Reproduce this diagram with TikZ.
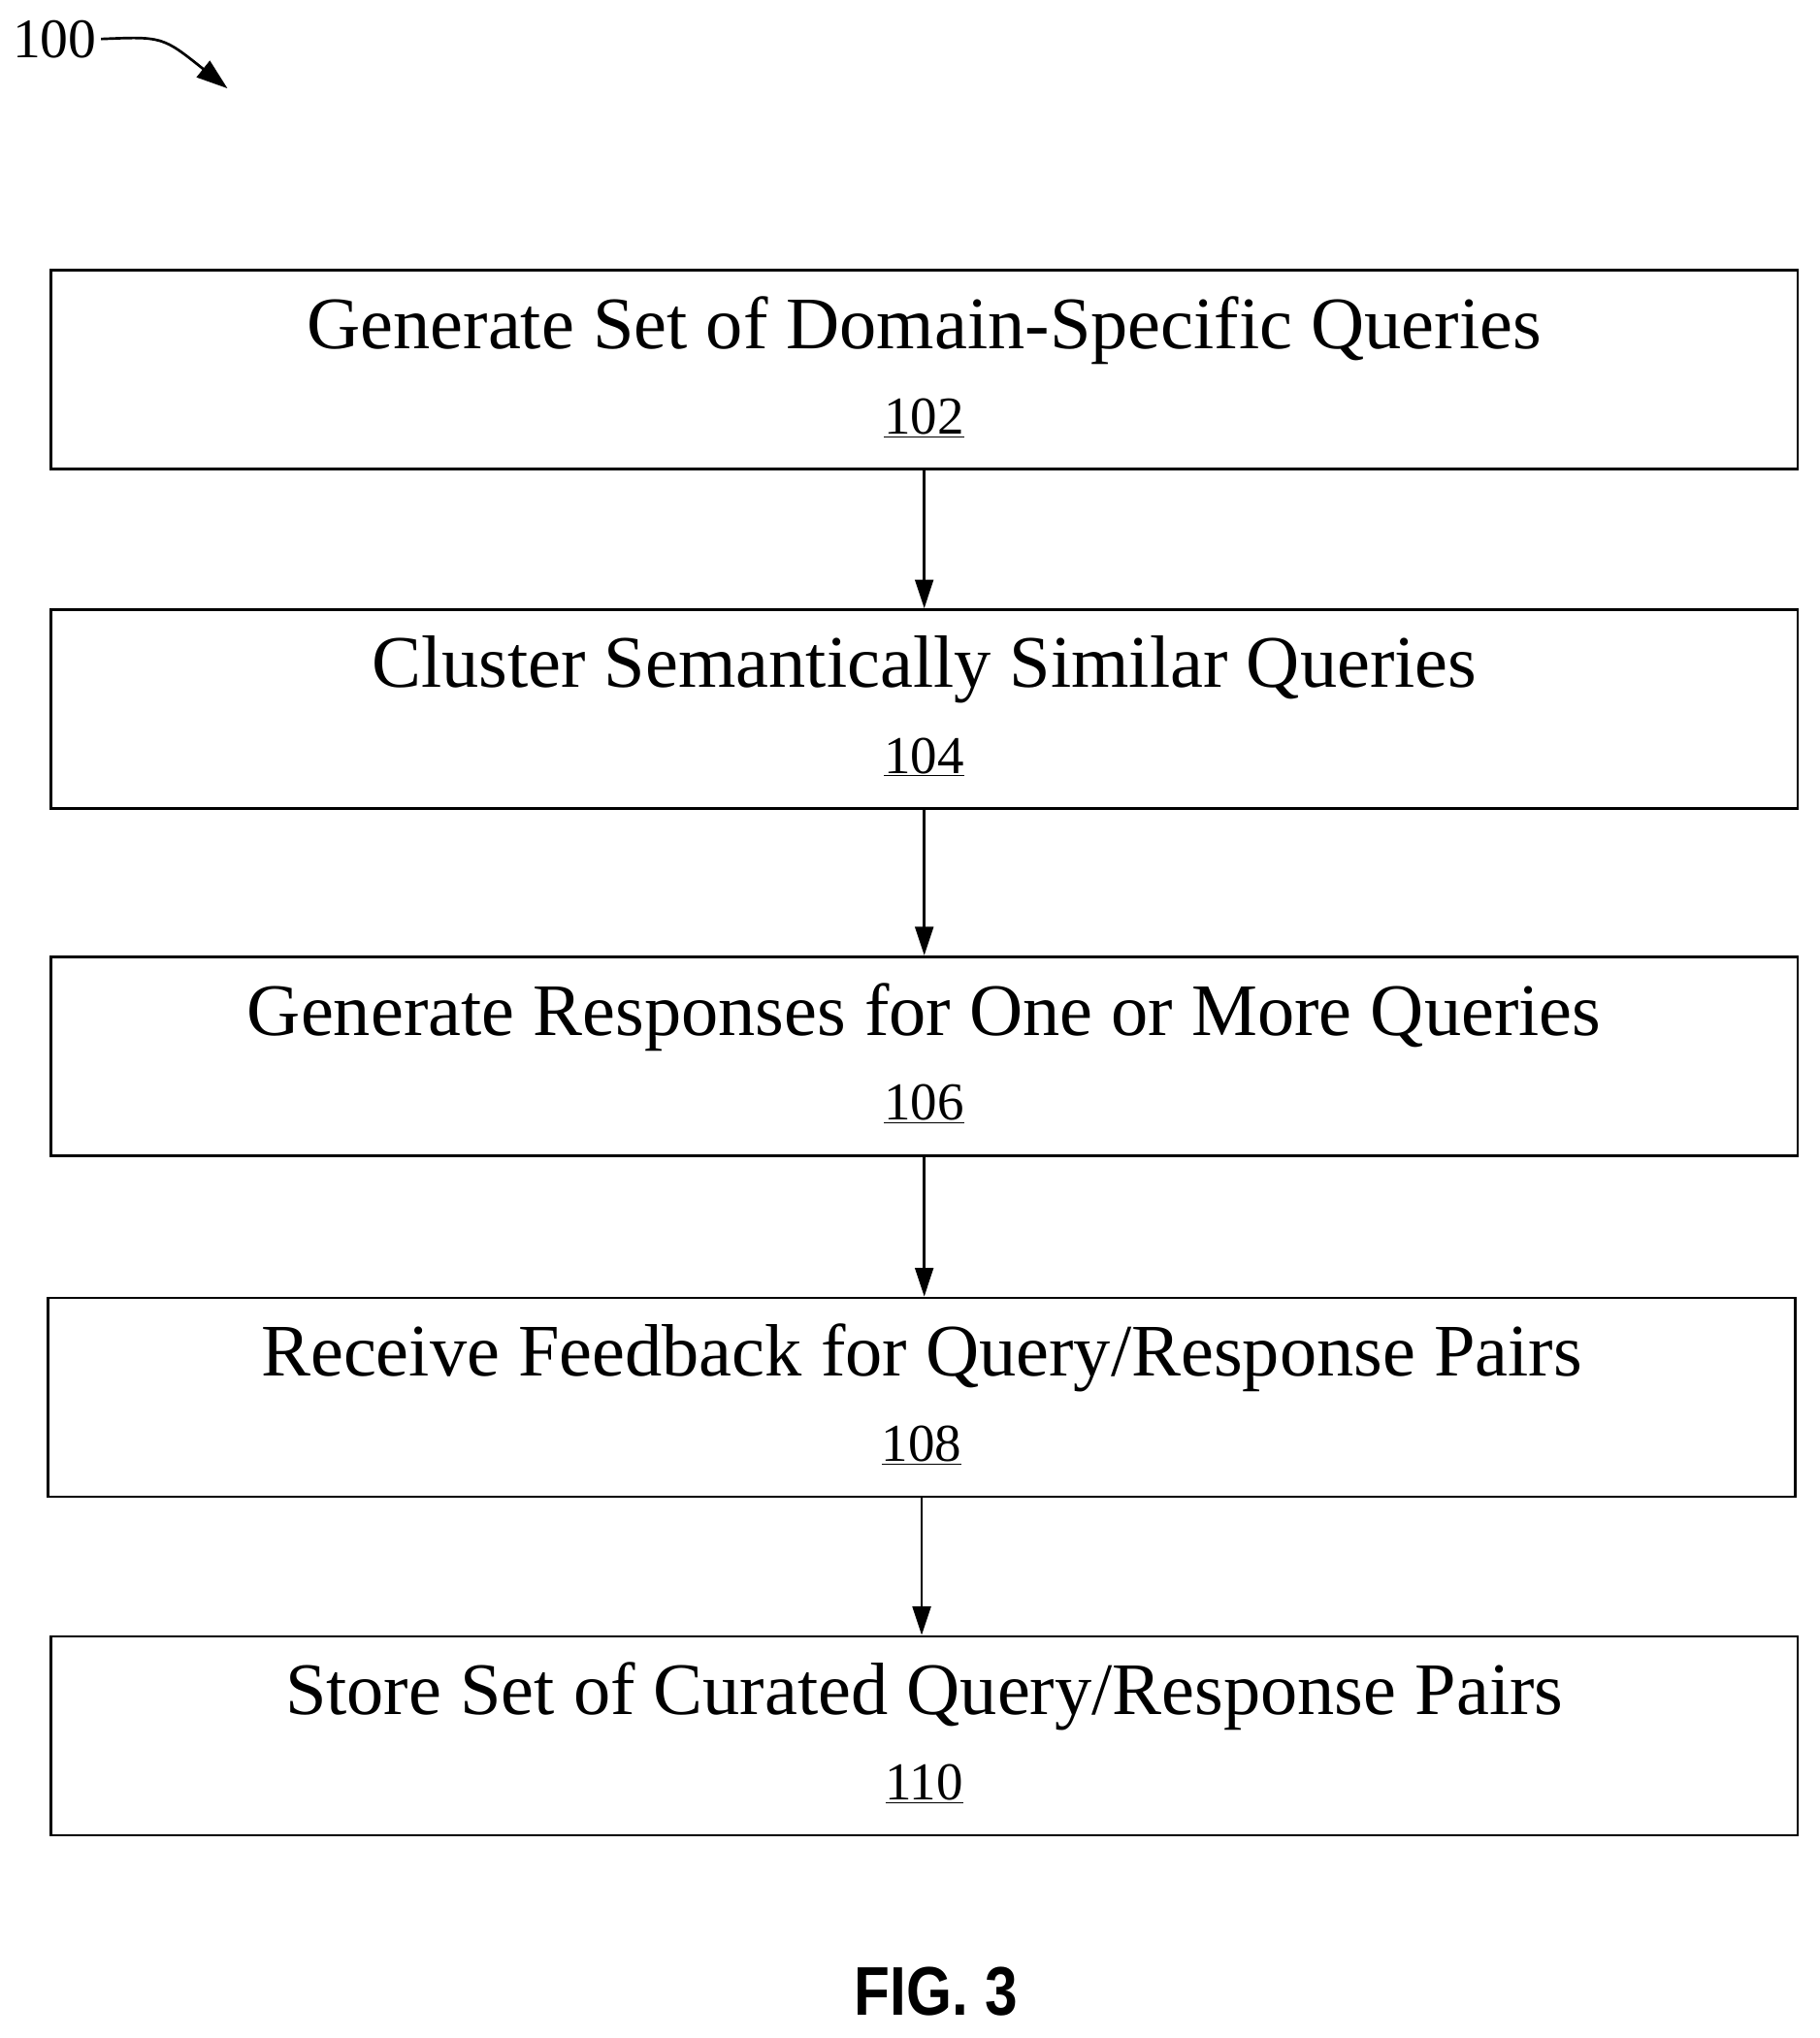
\documentclass[tikz,border=0pt]{standalone}
\usepackage{fontspec}
\setmainfont{Liberation Serif}
\newfontfamily\figfont{Liberation Sans}
\usetikzlibrary{arrows.meta}
\begin{document}
\begin{tikzpicture}[x=1pt,y=-1pt,
  box/.style={draw,line width=2pt,minimum width=1344pt,minimum height=153pt,inner sep=0pt},
  title/.style={font=\fontsize{57}{62}\selectfont},
  num/.style={font=\fontsize{41}{45}\selectfont},
  arr/.style={line width=2pt,-{Triangle[length=22pt,width=14pt]}}]
\useasboundingbox (0,0) rectangle (1400,1568);
\node[box] (b1) at (711,284.5) {};
\node[box] (b2) at (711,545.5) {};
\node[box] (b3) at (711,812.5) {};
\node[box] (b4) at (709,1075) {};
\node[box] (b5) at (711,1335.5) {};
\foreach \n/\t/\k in {b1/{Generate Set of Domain-Specific Queries}/102,
  b2/{Cluster Semantically Similar Queries}/104,
  b3/{Generate Responses for One or More Queries}/106,
  b4/{Receive Feedback for Query/Response Pairs}/108,
  b5/{Store Set of Curated Query/Response Pairs}/110}{
  \node[title] (\n t) at ([yshift=30pt]\n.center) {\t};
  \node[num] (\n n) at ([yshift=-37pt]\n.center) {\underline{\k}};
}
\draw[arr] (b1.south) -- (b2.north);
\draw[arr] (b2.south) -- (b3.north);
\draw[arr] (b3.south) -- ([xshift=2pt]b4.north);
\draw[arr] (b4.south) -- ([xshift=-2pt]b5.north);
\node[font=\fontsize{43}{46}\selectfont] (l100) at (42,30) {100};
\coordinate (tip) at (175,68);
\draw[line width=2pt,-{Triangle[length=24pt,width=16pt]}] (l100.east) .. controls (125,28) .. (tip);
\node[font=\figfont\bfseries\fontsize{53}{56}\selectfont,xscale=0.85] (fig) at (720,1532) {FIG. 3};
\end{tikzpicture}
\end{document}
